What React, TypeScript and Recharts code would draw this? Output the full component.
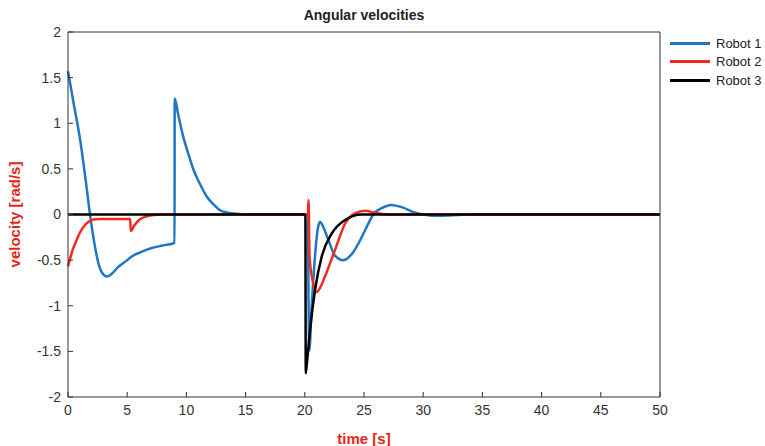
import { Line, LineChart, XAxis, YAxis } from "recharts";

// robot angular velocity traces (time in s, velocity in rad/s)
const robot1T = [0, 0.5, 1, 1.5, 1.86, 2.25, 2.6, 3, 3.3, 3.7, 4.2, 5, 5.5, 6, 7, 8, 9, 9.01, 9.3, 9.7, 10.2, 10.6, 11.2, 11.7, 12.3, 12.8, 13.5, 14.5, 15, 20.25, 20.32, 20.38, 20.58, 20.86, 21.05, 21.28, 21.5, 21.99, 22.55, 23.25, 24.1, 24.6, 25.1, 25.9, 26.5, 27.3, 28.3, 29.2, 30, 31, 32.2, 34, 50];
const robot1V = [1.57, 1.2, 0.84, 0.37, 0, -0.33, -0.55, -0.66, -0.68, -0.65, -0.58, -0.5, -0.45, -0.42, -0.37, -0.34, -0.31, 1.27, 1.1, 0.87, 0.65, 0.49, 0.32, 0.2, 0.11, 0.05, 0.02, 0.005, 0, 0, -1.0, -1.49, -1.01, -0.46, -0.2, -0.08, -0.12, -0.28, -0.45, -0.5, -0.41, -0.3, -0.17, 0.02, 0.07, 0.105, 0.075, 0.025, 0, -0.013, -0.01, 0, 0];

const robot2T = [0, 0.25, 0.5, 0.73, 1, 1.44, 1.8, 2.14, 2.6, 5.25, 5.3, 5.6, 6, 6.5, 7.2, 8, 20.25, 20.32, 20.4, 20.7, 21, 21.3, 21.7, 22.55, 23.4, 24.2, 25.1, 25.9, 27, 50];
const robot2V = [-0.57, -0.45, -0.35, -0.28, -0.2, -0.115, -0.075, -0.055, -0.05, -0.05, -0.18, -0.12, -0.06, -0.025, -0.005, 0, 0, 0.16, -0.46, -0.75, -0.85, -0.8, -0.68, -0.39, -0.1, 0.01, 0.04, 0.02, 0, 0];

const robot3T = [0, 20.05, 20.08, 20.2, 20.44, 20.86, 21.43, 22.27, 23.4, 24.8, 50];
const robot3V = [0, 0, -1.74, -1.6, -1.27, -0.83, -0.46, -0.21, -0.06, 0, 0];

const xTicks = [0, 5, 10, 15, 20, 25, 30, 35, 40, 45, 50];
const yTicks = [-2, -1.5, -1, -0.5, 0, 0.5, 1, 1.5, 2];

const SERIES = [
  { name: "Robot 1", t: robot1T, v: robot1V, color: "#1f77c4" },
  { name: "Robot 2", t: robot2T, v: robot2V, color: "#f02a1e" },
  { name: "Robot 3", t: robot3T, v: robot3V, color: "#000000" },
];

const FONT = "'Liberation Sans', Arial, sans-serif";
const AXIS = "#333";

function LegendBox() {
  return (
    <div style={{ position: "absolute", left: 670, top: 34, fontFamily: FONT, fontSize: 13, color: "#222" }}>
      {SERIES.map((s) => (
        <div key={s.name} style={{ display: "flex", alignItems: "center", height: 18.5 }}>
          <div style={{ width: 40, height: 3, background: s.color, marginRight: 6 }} />
          <span>{s.name}</span>
        </div>
      ))}
    </div>
  );
}

export default function App() {
  return (
    <div style={{ position: "absolute", left: 0, top: 0, width: 765, height: 446, background: "#fff" }}>
      <LineChart width={765} height={446} margin={{ top: 31, right: 104, bottom: 0, left: 0 }}>
        <XAxis
          xAxisId="b"
          type="number"
          dataKey="t"
          domain={[0, 50]}
          ticks={xTicks}
          height={49}
          tickSize={-5}
          tickMargin={13}
          stroke={AXIS}
          tick={{ fill: AXIS, fontSize: 14, fontFamily: FONT }}
          label={{ value: "time [s]", position: "insideBottom", offset: 2, fill: "#e8231a", fontWeight: "bold", fontSize: 15, fontFamily: FONT }}
        />
        <XAxis xAxisId="t" orientation="top" type="number" dataKey="t" domain={[0, 50]} ticks={xTicks} height={1} tickSize={-5} tickFormatter={() => ""} stroke={AXIS} />
        <YAxis
          yAxisId="l"
          type="number"
          domain={[-2, 2]}
          ticks={yTicks}
          width={68}
          tickSize={-5}
          tickMargin={12}
          stroke={AXIS}
          tick={{ fill: AXIS, fontSize: 14, fontFamily: FONT }}
          label={{ value: "velocity [rad/s]", angle: -90, position: "insideLeft", offset: 15, fill: "#e8231a", fontWeight: "bold", fontSize: 15, fontFamily: FONT, style: { textAnchor: "middle" } }}
        />
        <YAxis yAxisId="r" orientation="right" type="number" domain={[-2, 2]} ticks={yTicks} width={1} tickSize={-5} tickFormatter={() => ""} stroke={AXIS} />
        {SERIES.map((s) => (
          <Line
            key={s.name}
            xAxisId="b"
            yAxisId="l"
            name={s.name}
            data={s.t.map((t, i) => ({ t, v: s.v[i] }))}
            dataKey="v"
            type="monotone"
            stroke={s.color}
            strokeWidth={2.5}
            dot={false}
            isAnimationActive={false}
          />
        ))}
        <text x={364} y={20} textAnchor="middle" fontFamily={FONT} fontWeight="bold" fontSize={14} fill="#222">
          Angular velocities
        </text>
      </LineChart>
      <LegendBox />
    </div>
  );
}
